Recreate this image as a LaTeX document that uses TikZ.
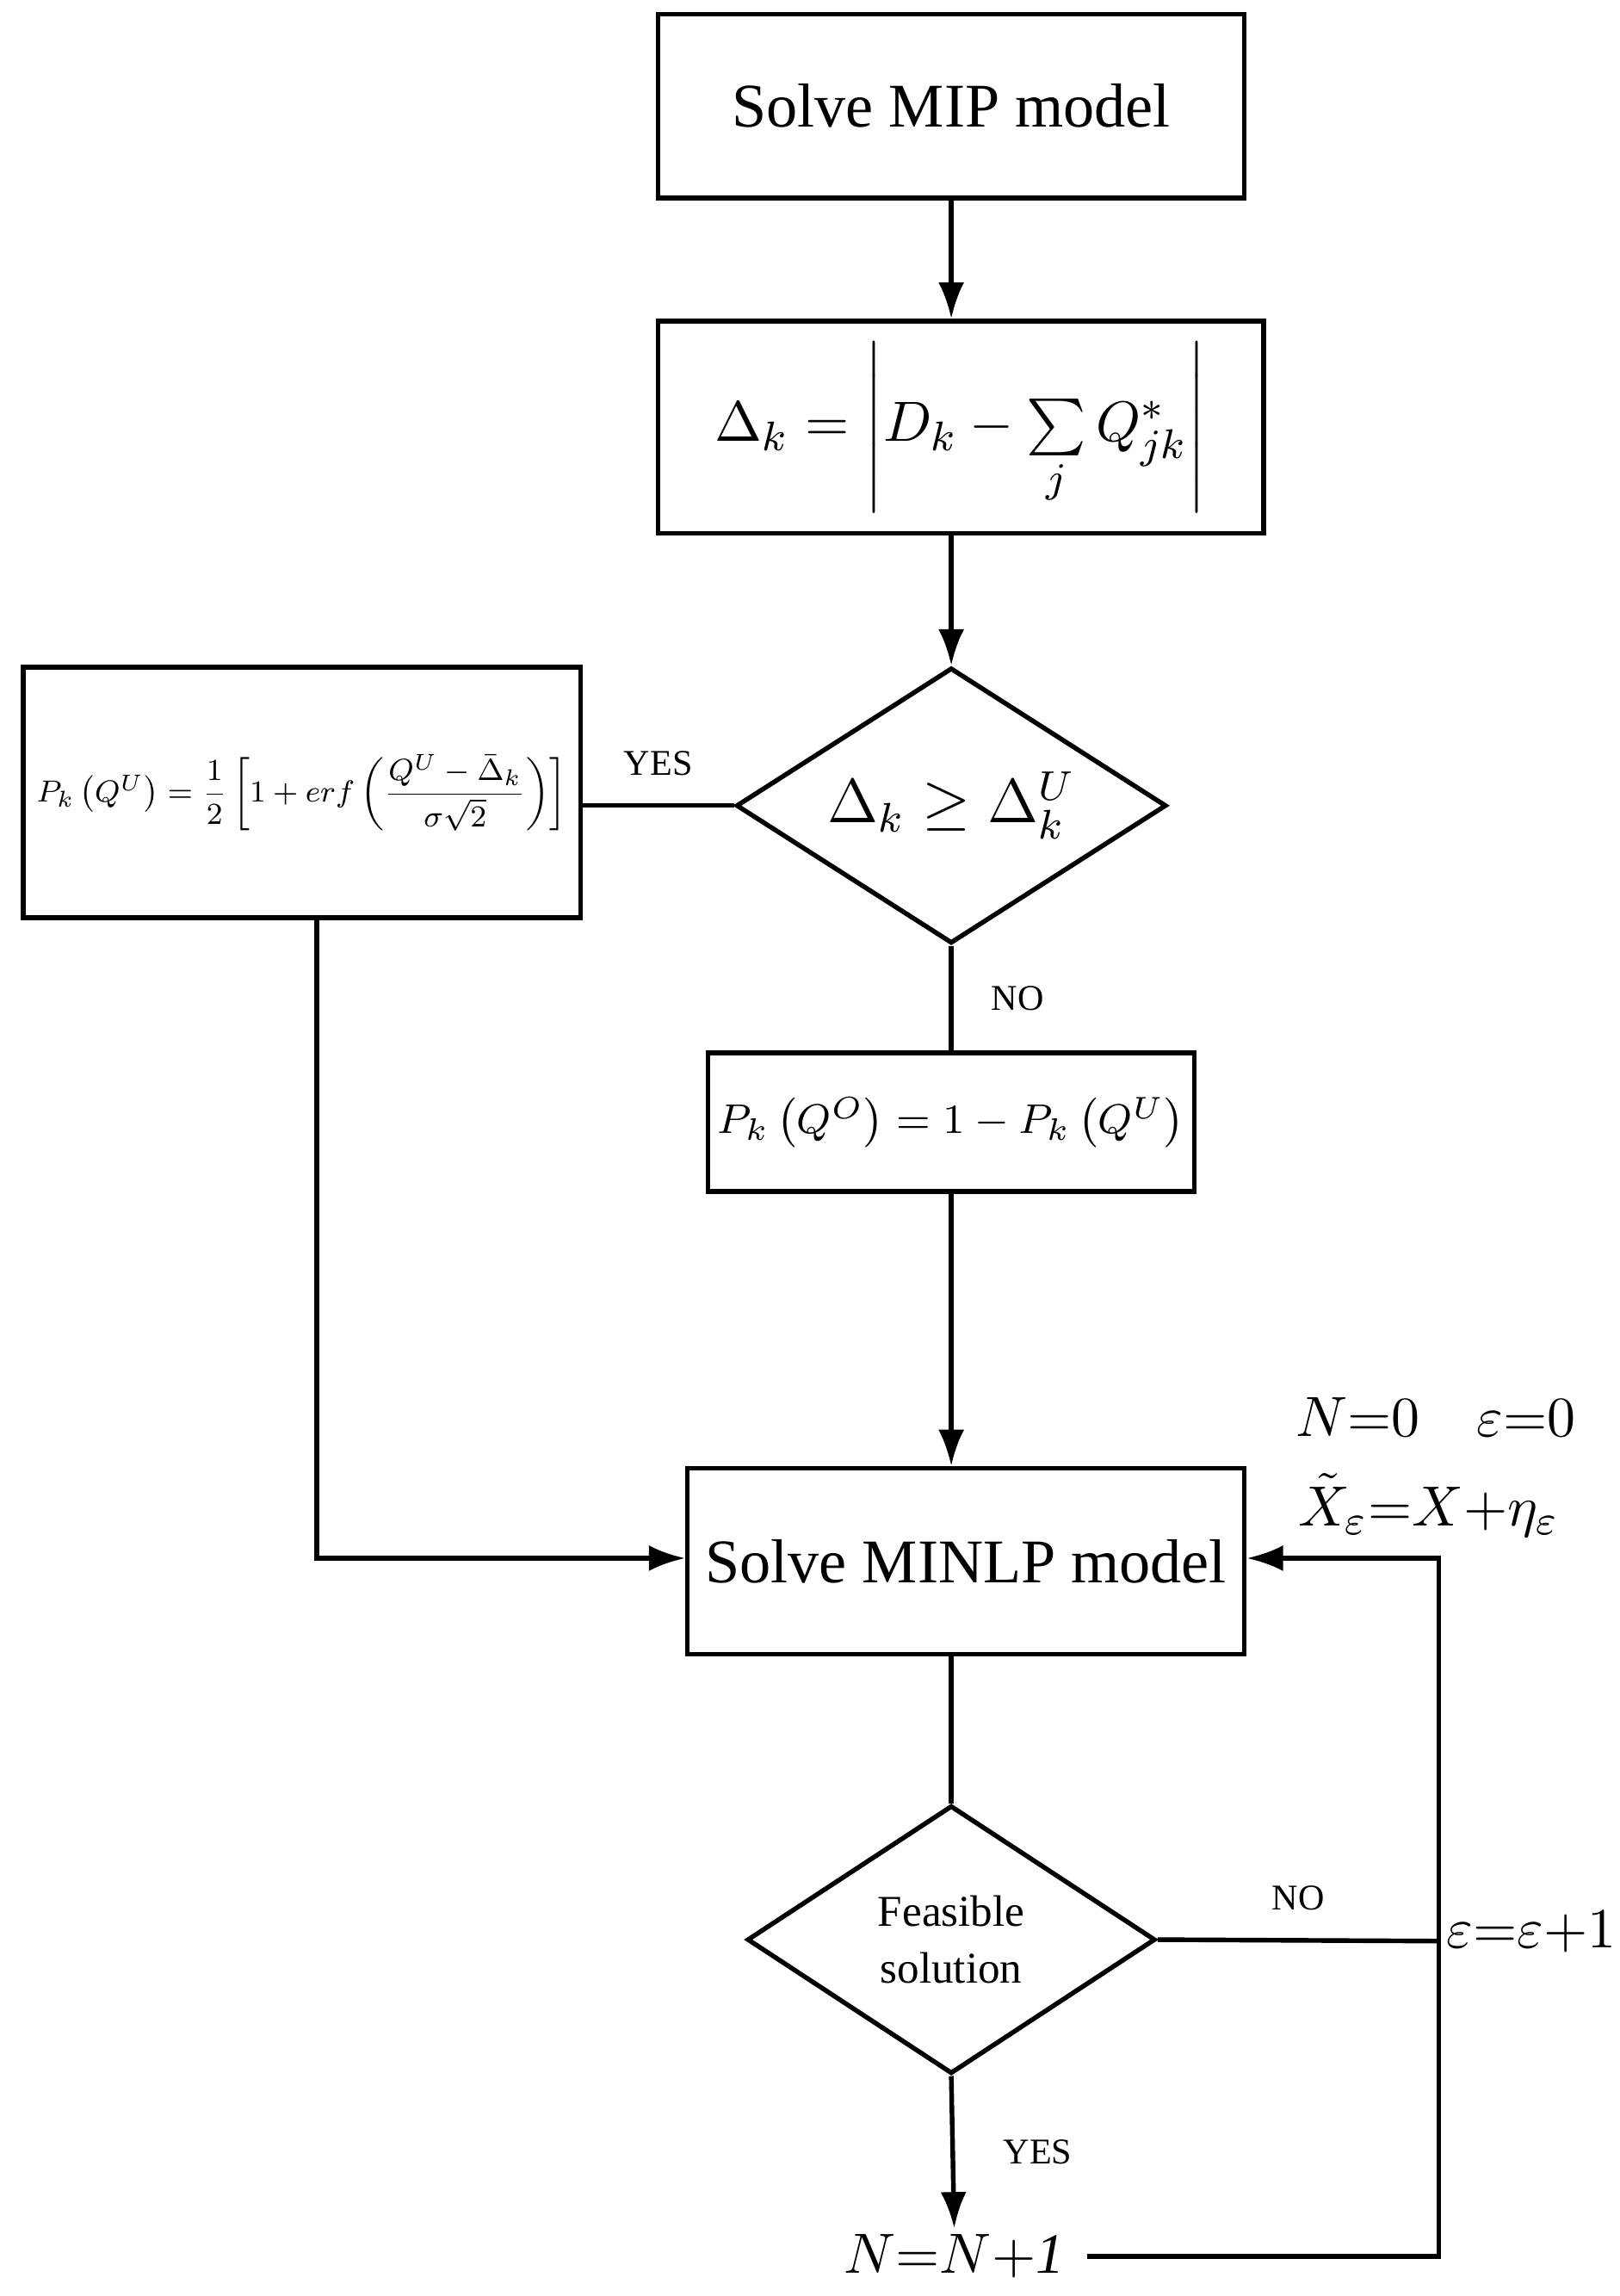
\documentclass[tikz,border=0pt]{standalone}
\usepackage{amsmath}
\usepackage{graphicx}
\usepackage{fontspec}
\setmainfont{Liberation Serif}
\usetikzlibrary{shapes.geometric,arrows.meta}
\begin{document}
\begin{tikzpicture}[x=0.01cm,y=-0.01cm,
  box/.style={draw,line width=0.9pt,inner sep=0pt},
  ln/.style={line width=0.9pt},
  arr/.style={ln,-{Latex[length=7pt,width=5pt]}},
  lab/.style={font=\fontsize{7}{8}\selectfont}]
\useasboundingbox (0,0) rectangle (1100,1559);
\node[box,minimum width=3.98cm,minimum height=1.25cm,font=\fontsize{12}{14}\selectfont] (b1) at (646,72) {Solve MIP model};
\node[box,minimum width=4.11cm,minimum height=1.44cm,font=\fontsize{11}{13}\selectfont] (b2) at (652.5,290) {$\Delta_k=\left|D_k-\sum\limits_j Q^{*}_{jk}\right|$};
\node[draw,ln,diamond,aspect=1.56,minimum width=2.92cm,minimum height=1.87cm,inner sep=0pt,font=\fontsize{12}{14}\selectfont] (d1) at (646,547) {$\Delta_k\geq\Delta_k^U$};
\node[box,minimum width=3.78cm,minimum height=1.70cm,font=\fontsize{8}{10}\selectfont] (b3) at (205,538) {\resizebox{3.6cm}{!}{$P_k\left(Q^U\right)=\dfrac12\left[1+erf\left(\dfrac{Q^U-\bar\Delta_k}{\sigma\sqrt2}\right)\right]$}};
\node[box,minimum width=3.30cm,minimum height=0.94cm,font=\fontsize{8}{10}\selectfont] (b4) at (646,762) {$P_k\left(Q^O\right)=1-P_k\left(Q^U\right)$};
\node[box,minimum width=3.78cm,minimum height=1.26cm,font=\fontsize{12}{14}\selectfont] (b5) at (656,1060) {Solve MINLP model};
\node[draw,ln,diamond,aspect=1.52,minimum width=2.77cm,minimum height=1.82cm,inner sep=0pt,align=center,font=\fontsize{8.5}{11}\selectfont] (d2) at (646,1317) {Feasible\\solution};
\node[font=\fontsize{11}{13}\selectfont,inner sep=1pt] (n1) at (648,1532) {$N{=}N{+}\mathit{1}$};
\node[font=\fontsize{11}{13}\selectfont,inner sep=1pt] (eps) at (1040,1312) {$\varepsilon{=}\varepsilon{+}1$};
\node[font=\fontsize{11}{13}\selectfont] (init1) at (975,962) {$N{=}0\quad \varepsilon{=}0$};
\node[font=\fontsize{11}{13}\selectfont,inner sep=1pt] (init2) at (970,1022) {$\tilde X_{\varepsilon}{=}X{+}\eta_{\varepsilon}$};
\coordinate (c1) at (215,1058);
\coordinate (c2) at (977,1532);
\coordinate (c3) at (977,1058);
\coordinate (c4) at (977,1318);
\coordinate (c5) at (738,1532);
\draw[arr] (b1.south) -- (b1.south|-b2.north);
\draw[arr] (b1.south|-b2.south) -- (d1.north);
\draw[ln] (d1.west) -- (b3.east|-d1.west) node[lab,midway,above=2pt] {YES};
\draw[ln] (d1.south) -- (b4.north) node[lab,midway,right=4pt] {NO};
\draw[arr] (b4.south) -- (b5.north-|b4.south);
\draw[arr] (b3.south-|c1) -- (c1) -- (c1-|b5.west);
\draw[ln] (b5.south-|d2.north) -- (d2.north);
\draw[arr] (d2.south) -- (n1.north) node[lab,midway,right=6pt] {YES};
\draw[ln] (d2.east) -- (c4) node[lab,midway,above=2pt] {NO};
\draw[arr] (c5) -- (c2) -- (c3) -- (c3-|b5.east);
\end{tikzpicture}
\end{document}
